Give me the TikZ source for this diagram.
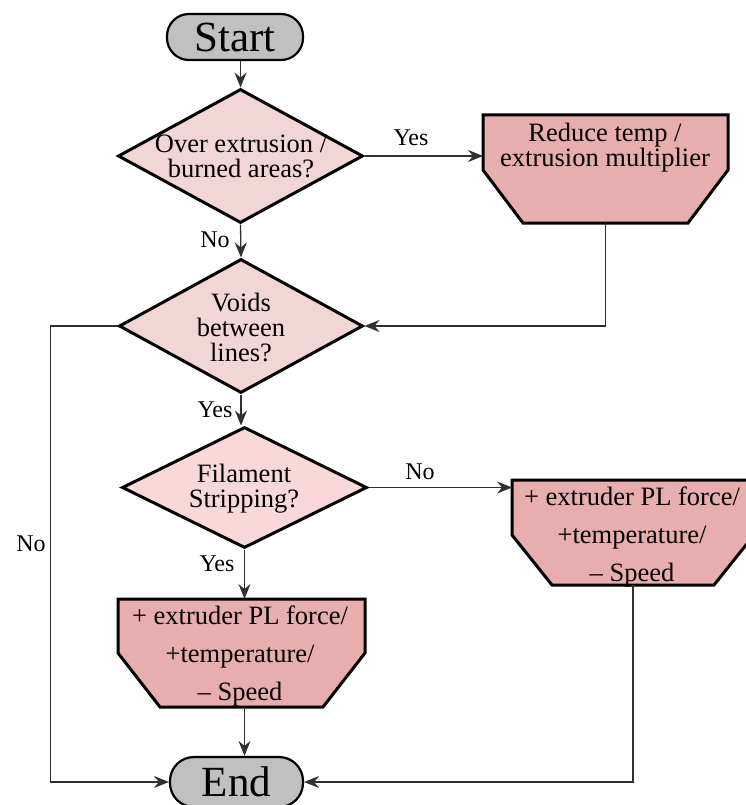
\documentclass[tikz,border=0pt]{standalone}
\usepackage{fontspec}
\setmainfont{Liberation Serif}
\usetikzlibrary{shapes.geometric,arrows.meta,calc}
\definecolor{termfill}{HTML}{C0C0C0}
\definecolor{decfill}{HTML}{F2D5D5}
\definecolor{decfillb}{HTML}{F9D8D9}
\definecolor{boxfill}{HTML}{E8ADAD}
\definecolor{connclr}{HTML}{303030}
\begin{document}
\begin{tikzpicture}[x=1pt,y=-1pt,
  term/.style={draw, line width=2.2pt, rounded corners=22pt, fill=termfill,
    minimum width=136pt, minimum height=46pt, inner sep=0pt,
    font=\fontsize{43}{43}\selectfont},
  dec/.style={draw, diamond, line width=3pt, fill=decfill, inner sep=0pt, line join=miter},
  dtext/.style={align=center, inner sep=0pt, font=\fontsize{26.5}{25}\selectfont},
  boxarea/.style={rectangle, inner sep=0pt, outer sep=0pt},
  boxline/.style={draw, line width=3pt, fill=boxfill, line join=miter},
  btext/.style={align=center, inner sep=0pt, font=\fontsize{26.5}{38}\selectfont},
  btextA/.style={align=center, inner sep=0pt, font=\fontsize{26.5}{24}\selectfont},
  lab/.style={inner sep=0pt, font=\fontsize{24}{24}\selectfont},
  conn/.style={draw=connclr, line width=1.3pt, -{Stealth[length=15pt,width=12pt,inset=5pt]}},
  plain/.style={draw=connclr, line width=1.3pt}
]
\useasboundingbox (0,0) rectangle (746,805);

% terminals
\node[term] (start) at (235,37) {Start};
\node[term, minimum width=133pt, minimum height=50pt, rounded corners=24pt] (end) at (236.5,782) {End};

% decisions
\node[dec, minimum width=245pt, minimum height=134pt] (d1) at (240.5,156) {};
\node[dtext] (d1t) at (241,156) {Over extrusion /\\burned areas?};
\node[dec, minimum width=244pt, minimum height=134pt] (d2) at (241,326) {};
\node[dtext] (d2t) at (241,327) {Voids\\between\\lines?};
\node[dec, fill=decfillb, minimum width=245pt, minimum height=121pt] (d3) at (244.5,487.5) {};
\node[dtext] (d3t) at (244,489) {Filament\\Stripping?};

% process boxes
\node[boxarea, minimum width=245pt, minimum height=108pt] (b1) at (605.5,169) {};
\path[boxline] (b1.north west) -- (b1.north east) -- ($(b1.north east)+(0,55)$)
  -- ($(b1.south east)+(-40,0)$) -- ($(b1.south west)+(40,0)$)
  -- ($(b1.north west)+(0,55)$) -- cycle;
\node[btextA] (b1t) at (605,148) {Reduce temp /\\extrusion multiplier};

\node[boxarea, minimum width=242pt, minimum height=105pt] (b3) at (633,532.5) {};
\path[boxline] (b3.north west) -- (b3.north east) -- ($(b3.north east)+(0,55)$)
  -- ($(b3.south east)+(-40,0)$) -- ($(b3.south west)+(40,0)$)
  -- ($(b3.north west)+(0,55)$) -- cycle;
\node[btext] (b3t) at (632,537) {+ extruder PL force/\\+temperature/\\– Speed};

\node[boxarea, minimum width=247pt, minimum height=108pt] (b2) at (241.5,653) {};
\path[boxline] (b2.north west) -- (b2.north east) -- ($(b2.north east)+(0,54)$)
  -- ($(b2.south east)+(-42,0)$) -- ($(b2.south west)+(42,0)$)
  -- ($(b2.north west)+(0,54)$) -- cycle;
\node[btext] (b2t) at (240,656) {+ extruder PL force/\\+temperature/\\– Speed};

% connectors
\draw[conn] (d1.north |- start.south) -- (d1.north);
\draw[conn] (d1.east) -- (b1.west |- d1.east);
\draw[conn] (d1.south) -- (d2.north);
\draw[conn] (b1.south) |- (d2.east);
\draw[conn] (d2.south) -- (d2.south |- d3.north);
\draw[conn] (d2.west) -- ++(-67,0) |- (end.west);
\draw[conn] (d3.east) -- (b3.west |- d3.east);
\draw[conn] (d3.south) -- (d3.south |- b2.north);
\draw[conn] (b3.south) |- (end.east);
\draw[conn] (b2.south -| d3.south) -- (d3.south |- end.north);

% labels
\node[lab] (yes1) at (411,138) {Yes};
\node[lab] (no1) at (215,240) {No};
\node[lab] (yes2) at (215,410) {Yes};
\node[lab] (no2) at (31,544) {No};
\node[lab] (no3) at (420,472) {No};
\node[lab] (yes3) at (217,564) {Yes};
\end{tikzpicture}
\end{document}
